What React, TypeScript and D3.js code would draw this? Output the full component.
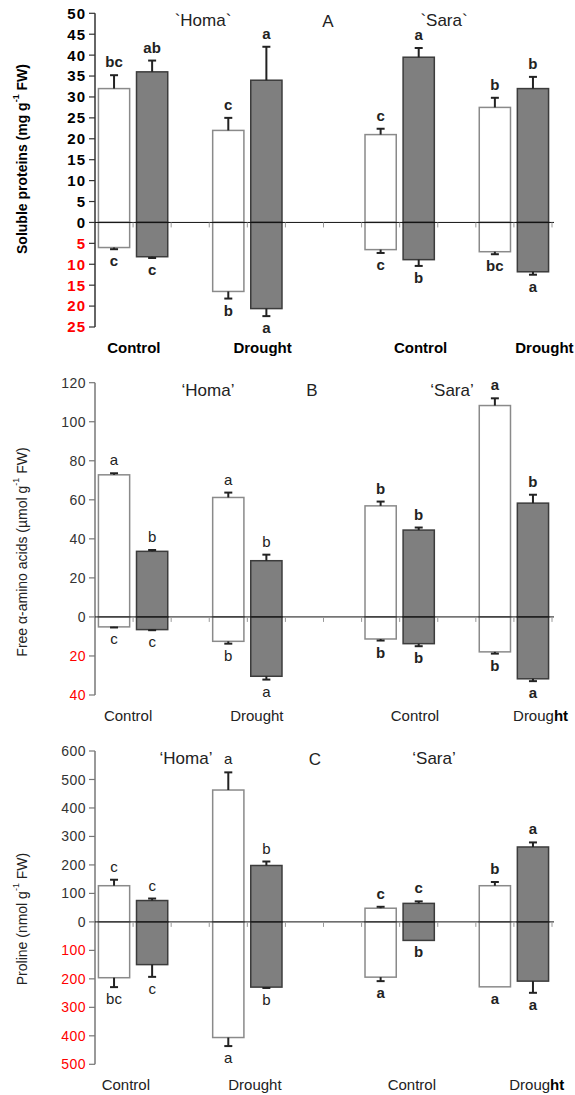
import React from "react";
import * as d3 from "d3";

// Twelve category slots along the x axis; bars sit in eight of them.
const slots = ["HC-w", "HC-g", "gap1", "HD-w", "HD-g", "gap2", "gap3", "SC-w", "SC-g", "gap4", "SD-w", "SD-g"];
const barSlots = ["HC-w", "HC-g", "HD-w", "HD-g", "SC-w", "SC-g", "SD-w", "SD-g"];
const barKinds = ["open", "filled", "open", "filled", "open", "filled", "open", "filled"];
const cultivarNames = ["Homa", "Sara"];
const treatments = ["Control", "Drought", "Control", "Drought"];

// A: soluble proteins
const proteinUp = [32, 36, 22, 34, 21, 39.5, 27.5, 32];
const proteinUpErr = [3.2, 2.7, 3, 8, 1.4, 2.2, 2.3, 2.8];
const proteinUpLetters = ["bc", "ab", "c", "a", "c", "a", "b", "b"];
const proteinDown = [6, 8.2, 16.5, 20.6, 6.5, 8.9, 7, 11.8];
const proteinDownErr = [0.4, 0.3, 1.7, 1.8, 0.8, 1.5, 0.6, 0.7];
const proteinDownLetters = ["c", "c", "b", "a", "c", "b", "bc", "a"];
const proteinTicks = [50, 45, 40, 35, 30, 25, 20, 15, 10, 5, 0, -5, -10, -15, -20, -25];

// B: free alpha-amino acids
const aminoUp = [72.8, 33.6, 61.2, 28.8, 56.9, 44.5, 108.3, 58.3];
const aminoUpErr = [0.8, 0.7, 2.5, 3.1, 2.2, 1.3, 3.7, 4.3];
const aminoUpLetters = ["a", "b", "a", "b", "b", "b", "a", "b"];
const aminoDown = [5.1, 6.5, 12.5, 30.4, 11.3, 13.7, 17.9, 31.7];
const aminoDownErr = [0.3, 0.3, 1.2, 1.7, 0.8, 1.3, 0.9, 1.2];
const aminoDownLetters = ["c", "c", "b", "a", "b", "b", "b", "a"];
const aminoTicks = [120, 100, 80, 60, 40, 20, 0, -20, -40];

// C: proline
const prolineUp = [127, 75, 463, 198, 48, 65, 127, 263];
const prolineUpErr = [21, 7, 62, 14, 5, 7, 13, 16];
const prolineUpLetters = ["c", "c", "a", "b", "c", "c", "b", "a"];
const prolineDown = [196, 150, 406, 229, 194, 65, 228, 208];
const prolineDownErr = [33, 43, 30, 3, 14, 0, 0, 41];
const prolineDownLetters = ["bc", "c", "a", "b", "a", "b", "a", "a"];
const prolineTicks = [600, 500, 400, 300, 200, 100, 0, -100, -200, -300, -400, -500];

type PanelSpec = {
  letter: string;
  titleMain: string;
  titleUnit: string;
  up: number[];
  upErr: number[];
  upLetters: string[];
  down: number[];
  downErr: number[];
  downLetters: string[];
  ticks: number[];
  top: number;
  bottom: number;
  bold: boolean;
  axisColor: string;
  quotes: [string, string];
  yTitleY: number;
  homaX: number;
  letterX: number;
  saraX: number;
  catSteps: number[];
};

const panels: PanelSpec[] = [
  {
    letter: "A", titleMain: "Soluble proteins (mg g", titleUnit: " FW)",
    up: proteinUp, upErr: proteinUpErr, upLetters: proteinUpLetters,
    down: proteinDown, downErr: proteinDownErr, downLetters: proteinDownLetters,
    ticks: proteinTicks, top: 13.3, bottom: 327, bold: true, axisColor: "#333",
    quotes: ["`", "`"],
    yTitleY: 159, homaX: 203, letterX: 328, saraX: 444,
    catSteps: [1.02, 4.4, 8.55, 11.8],
  },
  {
    letter: "B", titleMain: "Free \u03b1-amino acids (\u00b5mol g", titleUnit: " FW)",
    up: aminoUp, upErr: aminoUpErr, upLetters: aminoUpLetters,
    down: aminoDown, downErr: aminoDownErr, downLetters: aminoDownLetters,
    ticks: aminoTicks, top: 382.7, bottom: 695, bold: false, axisColor: "#777",
    quotes: ["\u2018", "\u2019"],
    yTitleY: 552, homaX: 208, letterX: 312, saraX: 452,
    catSteps: [0.87, 4.25, 8.4, 11.7],
  },
  {
    letter: "C", titleMain: "Proline (nmol g", titleUnit: " FW)",
    up: prolineUp, upErr: prolineUpErr, upLetters: prolineUpLetters,
    down: prolineDown, downErr: prolineDownErr, downLetters: prolineDownLetters,
    ticks: prolineTicks, top: 751, bottom: 1064.3, bold: false, axisColor: "#777",
    quotes: ["\u2018", "\u2019"],
    yTitleY: 919, homaX: 186, letterX: 315, saraX: 434,
    catSteps: [0.81, 4.2, 8.32, 11.6],
  },
];

const FONT = "'Liberation Sans', Arial, Helvetica, sans-serif";
const AXIS_X = 95;
const AXIS_END = 552;

function Panel({ p }: { p: PanelSpec }) {
  const x = d3
    .scaleBand<string>()
    .domain(slots)
    .range([AXIS_X, AXIS_END])
    .paddingInner(0.18)
    .paddingOuter(0.09);
  const step = x.step();
  const domain = d3.extent(p.ticks) as [number, number];
  const y = d3.scaleLinear().domain(domain).range([p.bottom, p.top]);
  const y0 = y(0);
  const bw = x.bandwidth();
  const tickColor = p.bold ? "#000" : "#333";
  const letterFill = "#222";
  const quoted = (n: string) => `${p.quotes[0]}${n}${p.quotes[1]}`;

  return (
    <g fontFamily={FONT}>
      {/* y title */}
      <text
        transform={`translate(22,${p.yTitleY}) rotate(-90)`}
        textAnchor="middle"
        dominantBaseline="central"
        fontSize={14}
        fontWeight={p.bold ? "bold" : "normal"}
        fill={p.bold ? "#000" : "#222"}
      >
        {p.titleMain}
        <tspan fontSize={9} dy={-6}>-1</tspan>
        <tspan dy={6}>{p.titleUnit}</tspan>
      </text>

      {/* y axis */}
      <line x1={AXIS_X} x2={AXIS_X} y1={y(domain[0])} y2={y(domain[1])} stroke={p.axisColor} strokeWidth={1.5} />
      {p.ticks.map((t) => (
        <g key={t}>
          <line x1={AXIS_X - 6} x2={AXIS_X} y1={y(t)} y2={y(t)} stroke={p.axisColor} strokeWidth={1.2} />
          <text
            x={AXIS_X - 9}
            y={y(t)}
            dy="0.36em"
            textAnchor="end"
            fontSize={p.bold ? 15 : 14}
            fontWeight={p.bold ? "bold" : "normal"}
            letterSpacing={p.bold ? 1 : 0.5}
            fill={t < 0 ? "#ff0000" : tickColor}
          >
            {Math.abs(t)}
          </text>
        </g>
      ))}

      {/* bars */}
      {barSlots.map((s, i) => {
        const bx = x(s)!;
        const cx = bx + bw / 2;
        const open = barKinds[i] === "open";
        const fill = open ? "#ffffff" : "#7f7f7f";
        const stroke = open ? "#8a8a8a" : "#3c3c3c";
        const upTop = y(p.up[i]);
        const upErrY = y(p.up[i] + p.upErr[i]);
        const dnBot = y(-p.down[i]);
        const dnErrY = y(-(p.down[i] + p.downErr[i]));
        const isSara = i >= 4;
        const lw = p.bold || isSara ? "bold" : "normal";
        return (
          <g key={s}>
            <rect x={bx} y={upTop} width={bw} height={y0 - upTop} fill={fill} stroke={stroke} strokeWidth={1.5} />
            <rect x={bx} y={y0} width={bw} height={dnBot - y0} fill={fill} stroke={stroke} strokeWidth={1.5} />
            {/* error bars */}
            {p.upErr[i] > 0 && (
              <g stroke="#222" strokeWidth={2}>
                <line x1={cx} x2={cx} y1={upTop} y2={upErrY} />
                <line x1={cx - 4} x2={cx + 4} y1={upErrY} y2={upErrY} />
              </g>
            )}
            {p.downErr[i] > 0 && (
              <g stroke="#222" strokeWidth={2}>
                <line x1={cx} x2={cx} y1={dnBot} y2={dnErrY} />
                <line x1={cx - 4} x2={cx + 4} y1={dnErrY} y2={dnErrY} />
              </g>
            )}
            <text x={cx} y={upErrY - 8} textAnchor="middle" fontSize={15} fontWeight={lw} fill={letterFill}>
              {p.upLetters[i]}
            </text>
            <text x={cx} y={dnErrY + 17} textAnchor="middle" fontSize={15} fontWeight={lw} fill={letterFill}>
              {p.downLetters[i]}
            </text>
          </g>
        );
      })}

      {/* zero line with slot ticks */}
      <line x1={AXIS_X} x2={AXIS_END + 2} y1={y0} y2={y0} stroke="#111" strokeWidth={1} />
      {d3.range(1, slots.length + 1).map((k) => (
        <line key={k} x1={AXIS_X + k * step} x2={AXIS_X + k * step} y1={y0} y2={y0 + 5} stroke="#999" strokeWidth={1} />
      ))}

      {/* panel titles */}
      <text x={p.homaX} y={p.top + 13} textAnchor="middle" fontSize={17} fill="#222">{quoted(cultivarNames[0])}</text>
      <text x={p.letterX} y={p.top + 13.5} textAnchor="middle" fontSize={17} fill="#222">{p.letter}</text>
      <text x={p.saraX} y={p.top + 13} textAnchor="middle" fontSize={17} fill="#222">{quoted(cultivarNames[1])}</text>

      {/* treatment labels */}
      {treatments.map((t, k) => {
        const tx = AXIS_X + p.catSteps[k] * step;
        const ty = y(domain[0]) + 26;
        if (!p.bold && k === 3) {
          return (
            <text key={k} x={tx} y={ty} textAnchor="middle" fontSize={15} fill="#222">
              {t.slice(0, 5)}
              <tspan fontWeight="bold" fill="#000">{t.slice(5)}</tspan>
            </text>
          );
        }
        return (
          <text key={k} x={tx} y={ty} textAnchor="middle" fontSize={15} fontWeight={p.bold ? "bold" : "normal"} fill={p.bold ? "#000" : "#222"}>
            {t}
          </text>
        );
      })}
    </g>
  );
}

export default function App() {
  return (
    <div style={{ position: "absolute", left: 0, top: 0 }}>
      <svg width={575} height={1095} style={{ display: "block", background: "#fff" }}>
        {panels.map((p) => (
          <Panel key={p.letter} p={p} />
        ))}
      </svg>
    </div>
  );
}
